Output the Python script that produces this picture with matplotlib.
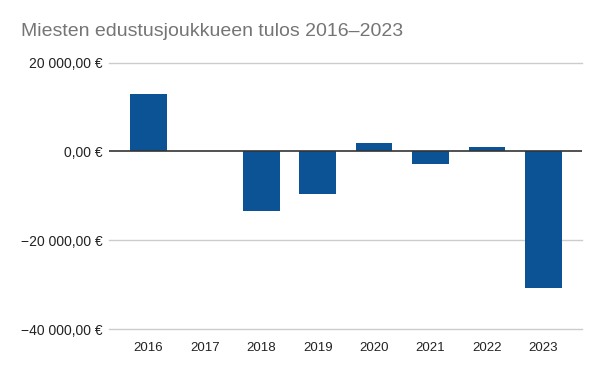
import matplotlib.pyplot as plt
from matplotlib.ticker import FuncFormatter

# Data
years = ["2016", "2017", "2018", "2019", "2020", "2021", "2022", "2023"]
tulos = [12950, 0, -13500, -9600, 2000, -2900, 1100, -30800]
y_ticks = [-40000, -20000, 0, 20000]

plt.rcParams["font.family"] = ["Liberation Sans", "DejaVu Sans"]


def euro(v, pos):
    s = f"{abs(v):,.2f}".replace(",", " ").replace(".", ",")
    return ("\u2212" if v < 0 else "") + s + " €"


fig = plt.figure(figsize=(6, 3.71), dpi=100)
ax = fig.add_axes([0.1817, 0.1132, 0.7876, 0.7178])

x = range(len(years))
ax.bar(x, tulos, width=0.65, color="#0b5394", zorder=3)

ax.set_xlim(-0.7, len(years) - 0.32)
ax.set_ylim(-40000, 20000)
ax.set_yticks(y_ticks)
ax.yaxis.set_major_formatter(FuncFormatter(euro))
ax.set_xticks(list(x))
ax.set_xticklabels(years)

# ruudukko, myös reunaviivat näkyviin
for t in y_ticks:
    if t != 0:
        ax.axhline(t, color="#cccccc", linewidth=1, zorder=0, clip_on=False)
ax.axhline(0, color="#333333", linewidth=1.2, zorder=4)
for s in ax.spines.values():
    s.set_visible(False)
ax.tick_params(axis="both", length=0, colors="#222222")
ax.tick_params(axis="y", pad=4.5, labelsize=10)
ax.tick_params(axis="x", pad=9, labelsize=9.5)

fig.text(0.035, 0.903, "Miesten edustusjoukkueen tulos 2016–2023",
         fontsize=14, color="#757575", va="baseline", ha="left")

plt.savefig("out.png")
